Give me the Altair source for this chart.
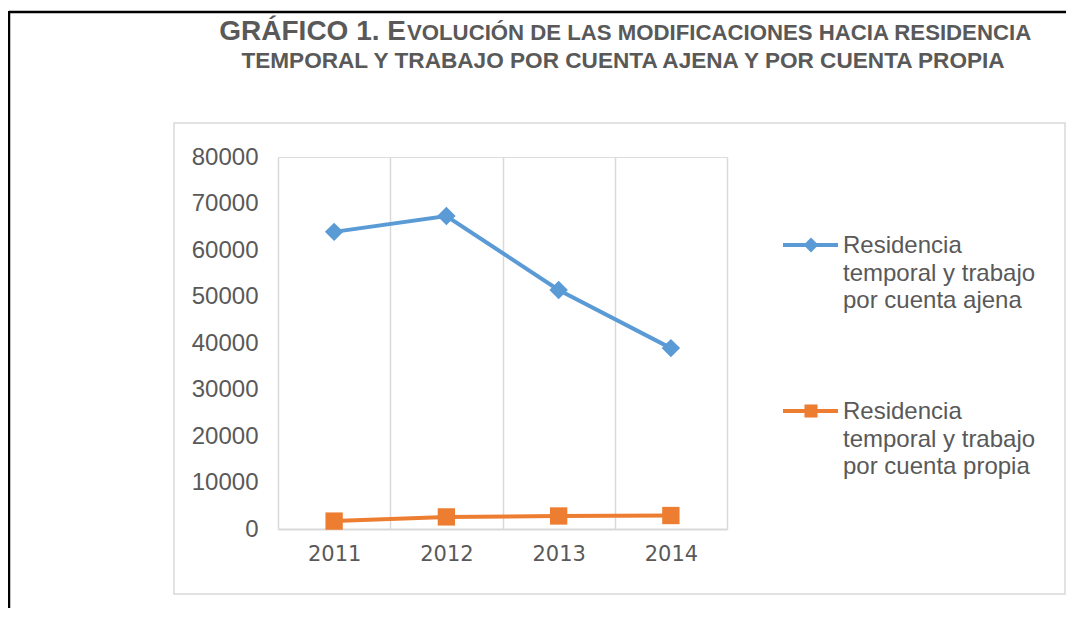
import altair as alt
import pandas as pd

years = ["2011", "2012", "2013", "2014"]
ajena = [63900, 67300, 51400, 38900]
propia = [1700, 2600, 2800, 2900]
y_ticks = [0, 10000, 20000, 30000, 40000, 50000, 60000, 70000, 80000]
series_names = ["Residencia temporal y trabajo por cuenta ajena",
                "Residencia temporal y trabajo por cuenta propia"]
legend_lines_1 = ["Residencia", "temporal y trabajo", "por cuenta ajena"]
legend_lines_2 = ["Residencia", "temporal y trabajo", "por cuenta propia"]
title_big = "GRÁFICO 1. E"
title_small_1 = "VOLUCIÓN DE LAS MODIFICACIONES HACIA RESIDENCIA"
title_line_2 = "TEMPORAL Y TRABAJO POR CUENTA AJENA Y POR CUENTA PROPIA"

BLUE = "#5b9bd5"
ORANGE = "#ed7d31"
GRAY = "#595959"
LIGHT = "#d9d9d9"
FONT = "Liberation Sans"

df = pd.DataFrame({
    "year": years * 2,
    "value": ajena + propia,
    "serie": [series_names[0]] * 4 + [series_names[1]] * 4,
})
one = pd.DataFrame({"a": [0]})

xenc = alt.X("year:O", scale=alt.Scale(type="band", paddingInner=0, paddingOuter=0),
             axis=alt.Axis(title=None, labelAngle=0, tickBand="extent", grid=True,
                           gridColor=LIGHT, gridWidth=1.5, ticks=False,
                           domainColor=LIGHT, domainWidth=2,
                           labelFont="DejaVu Sans", labelFontSize=21, labelColor=GRAY,
                           labelPadding=14))
yenc = alt.Y("value:Q", scale=alt.Scale(domain=[0, 80000], nice=False),
             axis=alt.Axis(title=None, values=y_ticks, format="d", grid=False, domain=False,
                           ticks=False, labelFont=FONT, labelFontSize=24, labelColor=GRAY,
                           labelPadding=20))

base = alt.Chart(df)

# frame elements
outer_top = alt.Chart(one).mark_rule(color="black", strokeWidth=2.5).encode(
    x=alt.value(-269), x2=alt.value(788), y=alt.value(-145))
outer_left = alt.Chart(one).mark_rule(color="black", strokeWidth=2.5).encode(
    x=alt.value(-269), y=alt.value(-146), y2=alt.value(451))
inner_box = alt.Chart(one).mark_rect(filled=False, stroke=LIGHT, strokeWidth=1.5).encode(
    x=alt.value(-104), x2=alt.value(787), y=alt.value(-34), y2=alt.value(437))

lines = base.mark_line(strokeWidth=4).encode(
    x=xenc, y=yenc,
    color=alt.Color("serie:N", scale=alt.Scale(domain=series_names, range=[BLUE, ORANGE]), legend=None))
pts_a = base.transform_filter(alt.datum.serie == series_names[0]).mark_point(
    shape="diamond", filled=True, size=340, color=BLUE, opacity=1).encode(x=xenc, y=yenc)
pts_p = base.transform_filter(alt.datum.serie == series_names[1]).mark_point(
    shape="square", filled=True, size=300, color=ORANGE, opacity=1).encode(x=xenc, y=yenc)

# legend
leg = []
for ly, col, shp, sz, txt in [(88, BLUE, "diamond", 220, legend_lines_1),
                              (254, ORANGE, "square", 170, legend_lines_2)]:
    leg.append(alt.Chart(one).mark_rule(color=col, strokeWidth=4).encode(
        x=alt.value(505), x2=alt.value(560), y=alt.value(ly)))
    leg.append(alt.Chart(one).mark_point(shape=shp, filled=True, size=sz, color=col, opacity=1).encode(
        x=alt.value(533), y=alt.value(ly)))
    leg.append(alt.Chart(one).mark_text(align="left", baseline="alphabetic", font=FONT, fontSize=24,
                                        lineHeight=27.5, color=GRAY).encode(
        x=alt.value(565), y=alt.value(ly + 8), text=alt.value(txt)))

# title
t1 = alt.Chart(one).mark_text(align="right", baseline="alphabetic", font=FONT, fontSize=28,
                              fontWeight="bold", color=GRAY).encode(
    x=alt.value(128), y=alt.value(-117), text=alt.value(title_big))
t2 = alt.Chart(one).mark_text(align="left", baseline="alphabetic", font=FONT, fontSize=22.2,
                              fontWeight="bold", color=GRAY).encode(
    x=alt.value(129), y=alt.value(-117), text=alt.value(title_small_1))
t3 = alt.Chart(one).mark_text(align="center", baseline="alphabetic", font=FONT, fontSize=22.6,
                              fontWeight="bold", color=GRAY).encode(
    x=alt.value(345), y=alt.value(-89), text=alt.value(title_line_2))

chart = alt.layer(inner_box, outer_top, outer_left, lines, pts_a, pts_p, *leg, t1, t2, t3).properties(
    width=449, height=372,
    padding={"left": 270, "top": 149, "right": 339, "bottom": 79},
    autosize=alt.AutoSizeParams(type="none"),
).configure_view(strokeWidth=0).configure(background="white")

chart.save("out.html", embed_options={"renderer": "svg", "actions": False})
